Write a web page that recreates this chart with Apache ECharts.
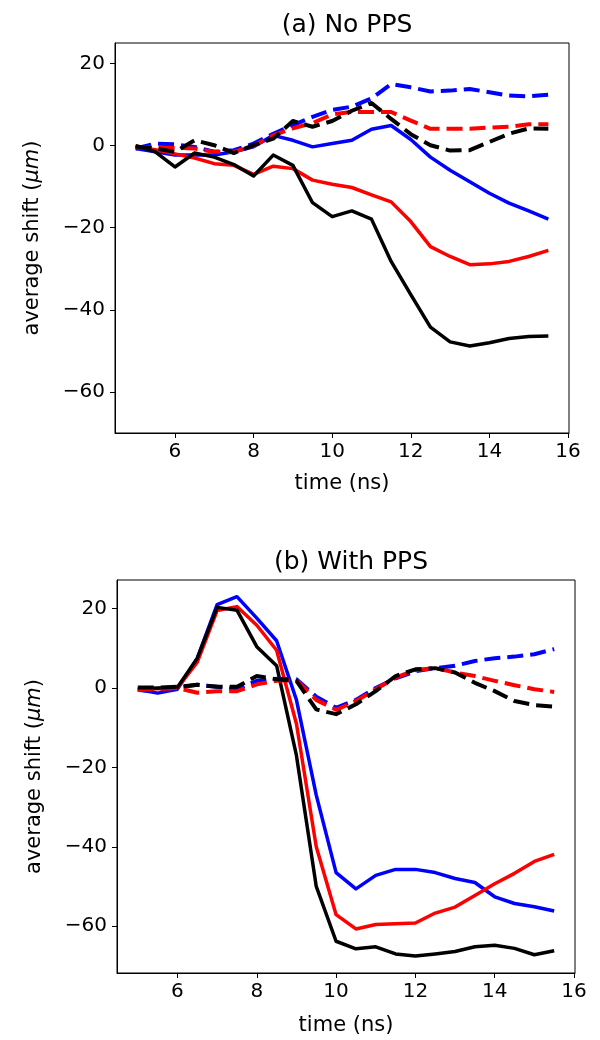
<html>
<head>
    <meta http-equiv='Content-Type' content='text/html; charset=utf-8'/>
    <title>average shift</title>
    <style>
        body {
            background: #fff;
            padding: 0;
            margin: 0;
        }
    </style>
    <script src="https://cdn.jsdelivr.net/npm/echarts@6/dist/echarts.min.js"></script>
</head>
<body>
<div id="main" style="width: 600px; height: 1040px;"></div>
<script type="text/javascript">
    // time axis (ns), one point every 0.5 ns
    let time = [5, 5.5, 6, 6.5, 7, 7.5, 8, 8.5, 9, 9.5, 10, 10.5, 11, 11.5, 12, 12.5, 13, 13.5, 14, 14.5, 15, 15.5];
    let xTicks = [6, 8, 10, 12, 14, 16];
    let yTicks = [-60, -40, -20, 0, 20];

    // (a) No PPS
    let noBlue = [-0.7, -1.5, -2.3, -2.3, -2.3, -1.5, -0.3, 2.5, 1.3, -0.3, 0.5, 1.3, 4.0, 4.9, 1.5, -2.8, -6, -8.8, -11.6, -14, -15.9, -17.9];
    let noRed = [-0.3, -1, -2, -3, -4.4, -4.8, -7, -5, -5.6, -8.4, -9.4, -10.2, -12, -13.7, -18.5, -24.6, -27, -29, -28.8, -28.2, -27, -25.5];
    let noBlack = [0, -1.5, -5.2, -1.8, -2.8, -4.6, -7.4, -2.3, -4.8, -13.9, -17.3, -15.9, -17.9, -28.2, -36.3, -44.2, -47.8, -48.8, -48, -47, -46.5, -46.4];
    let noBlueDash = [-0.7, 0.5, 0.3, -0.3, -1.5, -1.1, 0.5, 2.9, 5, 7, 8.7, 9.5, 11.5, 15, 14.2, 13.2, 13.4, 13.8, 13, 12.2, 12, 12.4];
    let noRedDash = [-0.3, -0.5, -0.5, -0.7, -1.5, -1.5, 0, 2.5, 4.2, 5.5, 7.6, 8.2, 8.2, 8.2, 6.1, 4.1, 4.1, 4.1, 4.4, 4.6, 5.2, 5.2];
    let noBlackDash = [-0.2, -0.7, -1.5, 1.3, 0.1, -1.8, 0.1, 1.7, 6, 4.6, 6, 8.5, 10.4, 6.5, 2.8, 0.1, -1.2, -1.1, 0.9, 2.9, 4.2, 4.1];

    // (b) With PPS
    let ppsBlue = [-0.4, -1.3, -0.3, 7.5, 21, 23, 17.6, 11.9, -3, -27, -46.5, -50.6, -47.2, -45.7, -45.7, -46.5, -48, -49, -52.6, -54.3, -55.1, -56.2];
    let ppsRed = [-0.2, -0.2, 0, 6.5, 19.5, 20.5, 15.8, 9.5, -9, -40, -57.1, -60.7, -59.6, -59.4, -59.2, -56.7, -55.2, -52.3, -49.3, -46.7, -43.7, -41.9];
    let ppsBlack = [-0.2, 0, 0.2, 7.5, 20.3, 19.6, 10.4, 5.6, -17, -50, -63.8, -65.7, -65.2, -67, -67.5, -67, -66.4, -65.2, -64.8, -65.6, -67.2, -66.2];
    let ppsBlueDash = [-0.5, -0.8, 0.1, 0.8, 0.3, -0.3, 1.8, 2.3, 2.2, -2.2, -5, -3, 0, 2.4, 4.2, 5, 5.6, 6.8, 7.5, 7.9, 8.5, 9.8];
    let ppsRedDash = [-0.5, -0.3, 0, -1.2, -0.8, -0.8, 0.9, 1.8, 2, -3, -5.5, -3.3, -0.3, 2.6, 4.5, 5, 3.9, 3, 1.8, 0.7, -0.3, -1];
    let ppsBlackDash = [0.1, 0.1, 0.3, 0.8, 0.3, 0.3, 3, 2.2, 1.8, -5.4, -6.6, -4.1, -0.8, 3, 4.7, 5, 3.9, 1.3, -0.8, -3.3, -4.3, -4.7];

    const FONT = 'DejaVu Sans';

    function pairs(vals) {
        return time.map((x, i) => [x, vals[i]]);
    }

    function minus(v) {
        return v < 0 ? '\u2212' + Math.abs(v) : String(v);
    }

    function line(name, vals, color, dashed, idx) {
        return {
            name: name,
            type: 'line',
            xAxisIndex: idx,
            yAxisIndex: idx,
            data: pairs(vals),
            showSymbol: false,
            symbol: 'none',
            silent: true,
            animation: false,
            lineStyle: {
                color: color,
                width: dashed ? 4 : 3.5,
                type: dashed ? [16, 7] : 'solid',
                cap: 'butt',
                join: 'round'
            }
        };
    }

    function xAxis(idx, gap) {
        return {
            type: 'value',
            gridIndex: idx,
            min: 4.475,
            max: 16.025,
            name: 'time (ns)',
            nameLocation: 'middle',
            nameGap: gap,
            nameTextStyle: {color: '#000', fontSize: 21, fontFamily: FONT},
            axisLine: {show: true, onZero: false, lineStyle: {color: '#000', width: 1}},
            axisTick: {show: true, inside: false, length: 5, customValues: xTicks, lineStyle: {color: '#000'}},
            axisLabel: {show: true, margin: 9, customValues: xTicks, color: '#000', fontSize: 20, fontFamily: FONT},
            splitLine: {show: false}
        };
    }

    function yAxis(idx, min, max) {
        return {
            type: 'value',
            gridIndex: idx,
            min: min,
            max: max,
            name: '{a|average shift (}{b|\u03bcm}{a|)}',
            nameLocation: 'middle',
            nameGap: 72,
            nameRotate: 90,
            nameTextStyle: {
                color: '#000',
                rich: {
                    a: {fontSize: 21, fontFamily: FONT, color: '#000'},
                    b: {fontSize: 21, fontFamily: FONT, fontStyle: 'italic', color: '#000'}
                }
            },
            axisLine: {show: true, onZero: false, lineStyle: {color: '#000', width: 1}},
            axisTick: {show: true, inside: false, length: 5, customValues: yTicks, lineStyle: {color: '#000'}},
            axisLabel: {show: true, margin: 10, customValues: yTicks, color: '#000', fontSize: 20, fontFamily: FONT, formatter: minus},
            splitLine: {show: false}
        };
    }

    let myChart = echarts.init(document.getElementById('main'), null, {renderer: 'canvas'});

    let option = {
        backgroundColor: '#fff',
        animation: false,
        title: [
            {
                text: '(a) No PPS',
                left: 342,
                top: 8,
                textAlign: 'center',
                textStyle: {color: '#000', fontSize: 25, fontWeight: 'normal', fontFamily: FONT}
            },
            {
                text: '(b) With PPS',
                left: 346,
                top: 545,
                textAlign: 'center',
                textStyle: {color: '#000', fontSize: 25, fontWeight: 'normal', fontFamily: FONT}
            }
        ],
        grid: [
            {left: 115, right: 31, top: 43, height: 390, show: true, borderColor: '#000', borderWidth: 1, backgroundColor: '#fff'},
            {left: 117, right: 25, top: 580, height: 393, show: true, borderColor: '#000', borderWidth: 1, backgroundColor: '#fff'}
        ],
        xAxis: [xAxis(0, 40), xAxis(1, 42)],
        yAxis: [yAxis(0, -70, 25), yAxis(1, -71.8, 27.2)],
        series: [
            line('blue', noBlue, '#0000ff', false, 0),
            line('red', noRed, '#ff0000', false, 0),
            line('black', noBlack, '#000000', false, 0),
            line('blue dashed', noBlueDash, '#0000ff', true, 0),
            line('red dashed', noRedDash, '#ff0000', true, 0),
            line('black dashed', noBlackDash, '#000000', true, 0),
            line('blue', ppsBlue, '#0000ff', false, 1),
            line('red', ppsRed, '#ff0000', false, 1),
            line('black', ppsBlack, '#000000', false, 1),
            line('blue dashed', ppsBlueDash, '#0000ff', true, 1),
            line('red dashed', ppsRedDash, '#ff0000', true, 1),
            line('black dashed', ppsBlackDash, '#000000', true, 1)
        ]
    };

    myChart.setOption(option);
</script>
</body>
</html>
